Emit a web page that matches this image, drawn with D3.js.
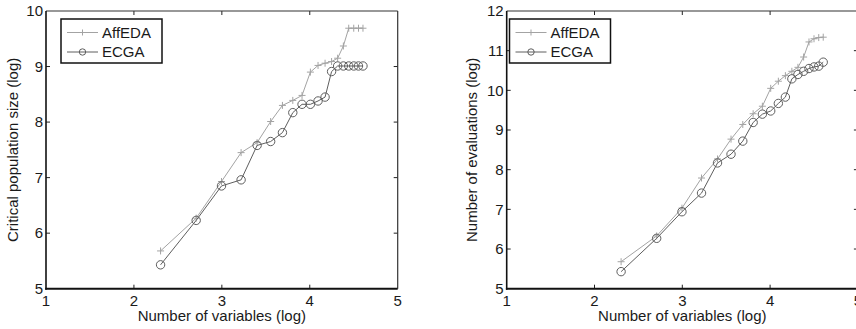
<!DOCTYPE html>
<html>
<head>
<meta charset="utf-8">
<script src="https://cdn.jsdelivr.net/npm/d3@7"></script>
<style>
  body { margin: 0; background: #fff; }
  svg { display: block; font-family: "Liberation Sans", Arial, sans-serif; }
</style>
</head>
<body>
<svg id="fig" width="856" height="329"></svg>
<script>
// log of number of variables (ln 10 .. ln 100)
const logVars = [2.303, 2.708, 2.996, 3.219, 3.401, 3.555, 3.689, 3.807, 3.912, 4.007,
  4.094, 4.174, 4.248, 4.317, 4.382, 4.443, 4.500, 4.554, 4.605];

const popAffEDA = [5.68, 6.27, 6.93, 7.45, 7.63, 8.01, 8.30, 8.39, 8.48, 8.90,
  9.02, 9.06, 9.09, 9.15, 9.37, 9.69, 9.69, 9.69, 9.69];
const popECGA = [5.43, 6.23, 6.85, 6.96, 7.58, 7.65, 7.81, 8.17, 8.32, 8.32,
  8.38, 8.45, 8.91, 9.01, 9.01, 9.01, 9.01, 9.01, 9.01];

const evalAffEDA = [5.68, 6.33, 7.03, 7.79, 8.27, 8.77, 9.14, 9.41, 9.60, 10.05,
  10.23, 10.37, 10.48, 10.58, 10.84, 11.22, 11.30, 11.33, 11.34];
const evalECGA = [5.43, 6.27, 6.94, 7.41, 8.17, 8.39, 8.72, 9.19, 9.40, 9.48,
  9.67, 9.83, 10.29, 10.40, 10.48, 10.55, 10.59, 10.61, 10.71];

const seriesNames = ['AffEDA', 'ECGA'];
const xTicks = [1, 2, 3, 4, 5];

const colors = { AffEDA: '#a3a3a3', ECGA: '#5e5e5e' };

const panels = [
  { left: 46, right: 397.7, yDomain: [5, 10], yTicks: [5, 6, 7, 8, 9, 10],
    yLabel: 'Critical population size (log)', labelX: 18,
    series: [popAffEDA, popECGA], legendX: 61 },
  { left: 506.7, right: 857.9, yDomain: [5, 12], yTicks: [5, 6, 7, 8, 9, 10, 11, 12],
    yLabel: 'Number of evaluations (log)', labelX: 477,
    series: [evalAffEDA, evalECGA], legendX: 509.5 }
];

const plotTop = 11, plotBottom = 288.7;
const svg = d3.select('#fig');
const textCol = '#1a1a1a';

function plusPath(s) {
  return `M${-s},0H${s}M0,${-s}V${s}`;
}

panels.forEach(p => {
  const x = d3.scaleLinear().domain([1, 5]).range([p.left, p.right]);
  const y = d3.scaleLinear().domain(p.yDomain).range([plotBottom, plotTop]);
  const g = svg.append('g');

  // inward ticks on all four sides
  const tk = 4;
  xTicks.slice(1, -1).forEach(t => {
    g.append('line').attr('x1', x(t)).attr('x2', x(t)).attr('y1', plotBottom).attr('y2', plotBottom - tk)
      .attr('stroke', '#222').attr('stroke-width', 1);
    g.append('line').attr('x1', x(t)).attr('x2', x(t)).attr('y1', plotTop).attr('y2', plotTop + tk)
      .attr('stroke', '#222').attr('stroke-width', 1);
  });
  p.yTicks.slice(1, -1).forEach(t => {
    g.append('line').attr('x1', p.left).attr('x2', p.left + tk).attr('y1', y(t)).attr('y2', y(t))
      .attr('stroke', '#222').attr('stroke-width', 1);
    g.append('line').attr('x1', p.right).attr('x2', p.right - tk).attr('y1', y(t)).attr('y2', y(t))
      .attr('stroke', '#222').attr('stroke-width', 1);
  });

  // frame
  g.append('line').attr('x1', p.left).attr('x2', p.right).attr('y1', plotTop).attr('y2', plotTop)
    .attr('stroke', '#333').attr('stroke-width', 1.2);
  g.append('line').attr('x1', p.right).attr('x2', p.right).attr('y1', plotTop).attr('y2', plotBottom)
    .attr('stroke', '#333').attr('stroke-width', 1.2);
  g.append('line').attr('x1', p.left).attr('x2', p.left).attr('y1', plotTop).attr('y2', plotBottom + 1)
    .attr('stroke', '#111').attr('stroke-width', 1.6);
  g.append('line').attr('x1', p.left - 0.8).attr('x2', p.right).attr('y1', plotBottom).attr('y2', plotBottom)
    .attr('stroke', '#111').attr('stroke-width', 2);

  // tick labels
  g.selectAll('.xt').data(xTicks).enter().append('text')
    .attr('x', d => x(d)).attr('y', 305.5).attr('text-anchor', 'middle')
    .attr('font-size', 15).attr('fill', textCol).text(d => d);
  g.selectAll('.yt').data(p.yTicks).enter().append('text')
    .attr('x', p.left - 3).attr('y', d => y(d) + 5.3).attr('text-anchor', 'end')
    .attr('font-size', 15).attr('fill', textCol).text(d => d);

  // axis labels
  g.append('text').attr('x', (p.left + p.right) / 2).attr('y', 320.5)
    .attr('text-anchor', 'middle').attr('font-size', 15).attr('fill', textCol)
    .text('Number of variables (log)');
  g.append('text')
    .attr('transform', `translate(${p.labelX},${(plotTop + plotBottom) / 2}) rotate(-90)`)
    .attr('text-anchor', 'middle').attr('font-size', 15).attr('fill', textCol)
    .text(p.yLabel);

  // series
  const line = d3.line().x((d, i) => x(logVars[i])).y(d => y(d));
  p.series.forEach((vals, si) => {
    const c = colors[seriesNames[si]];
    g.append('path').datum(vals).attr('d', line)
      .attr('fill', 'none').attr('stroke', c).attr('stroke-width', 1);
    if (si === 0) {
      g.selectAll('.plus' + si).data(vals).enter().append('path')
        .attr('transform', (d, i) => `translate(${x(logVars[i])},${y(d)})`)
        .attr('d', plusPath(3.5)).attr('stroke', c).attr('stroke-width', 1).attr('fill', 'none');
    } else {
      g.selectAll('.circ' + si).data(vals).enter().append('circle')
        .attr('cx', (d, i) => x(logVars[i])).attr('cy', d => y(d)).attr('r', 4.2)
        .attr('stroke', c).attr('stroke-width', 1).attr('fill', 'none');
    }
  });

  // legend
  const lg = g.append('g').attr('transform', `translate(${p.legendX},19)`);
  lg.append('rect').attr('x', 0).attr('y', 0).attr('width', 101).attr('height', 44)
    .attr('fill', '#fff').attr('stroke', '#111').attr('stroke-width', 1.5);
  seriesNames.forEach((name, i) => {
    const cy = 13.5 + i * 19.5;
    const c = colors[name];
    lg.append('line').attr('x1', 6).attr('x2', 37).attr('y1', cy).attr('y2', cy)
      .attr('stroke', c).attr('stroke-width', 1);
    if (i === 0) {
      lg.append('path').attr('transform', `translate(21.5,${cy})`).attr('d', plusPath(3))
        .attr('stroke', c).attr('stroke-width', 1);
    } else {
      lg.append('circle').attr('cx', 21.5).attr('cy', cy).attr('r', 3.2)
        .attr('stroke', c).attr('fill', 'none').attr('stroke-width', 1);
    }
    lg.append('text').attr('x', 41).attr('y', cy + 5.3).attr('font-size', 15)
      .attr('fill', textCol).text(name);
  });
});
</script>
</body>
</html>
